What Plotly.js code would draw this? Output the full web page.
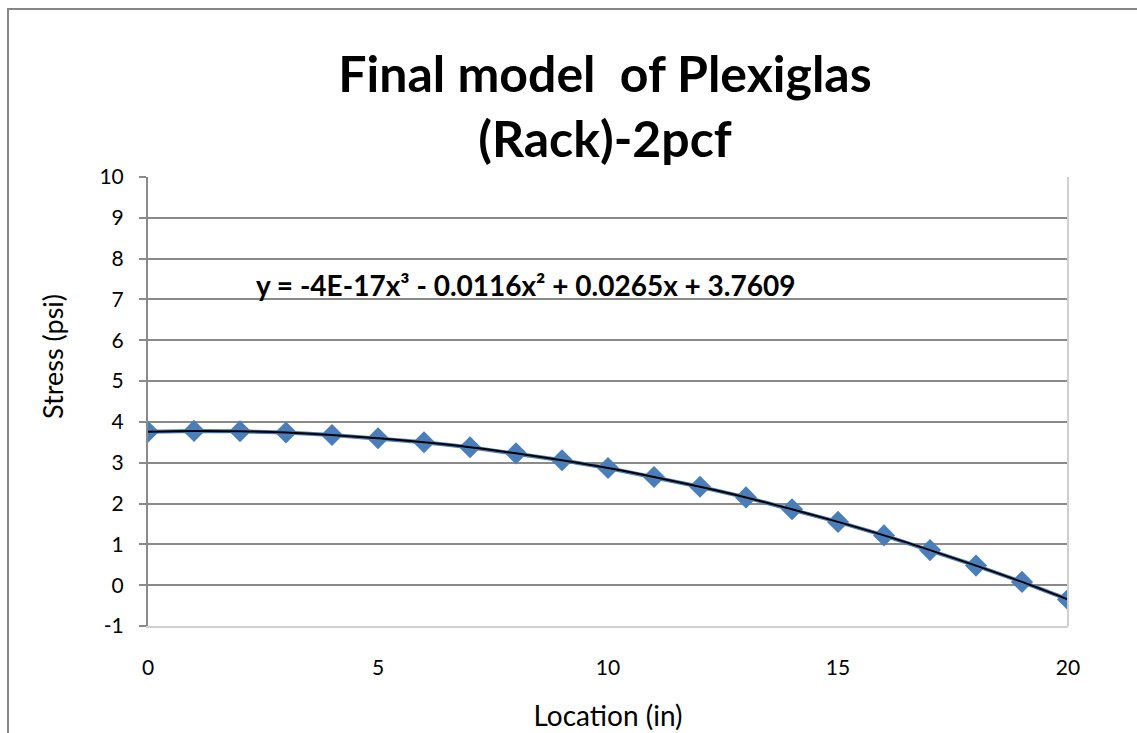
<!DOCTYPE html>
<html>
<head>
<meta charset="utf-8">
<script src="https://cdn.plot.ly/plotly-3.0.1.min.js"></script>
<style>
html,body{margin:0;padding:0;background:#fff;}
#chart{width:1137px;height:733px;}
</style>
</head>
<body>
<div id="chart"></div>
<script>
const locations = [0,1,2,3,4,5,6,7,8,9,10,11,12,13,14,15,16,17,18,19,20];
const stress = [3.76,3.78,3.77,3.74,3.68,3.60,3.50,3.38,3.23,3.06,2.87,2.65,2.41,2.15,1.86,1.55,1.22,0.86,0.48,0.08,-0.35];
const titleText = "Final model  of Plexiglas<br>(Rack)-2pcf";
const xTitle = "Location (in)";
const yTitle = "Stress (psi)";
const equationText = "y = -4E-17x³ - 0.0116x² + 0.0265x + 3.7609";
const yTickVals = [-1,0,1,2,3,4,5,6,7,8,9,10];
const yTickText = ["-1","0","1","2","3","4","5","6","7","8","9","10"];

const font = "Lato, 'Open Sans', sans-serif";
const W = 1137, H = 733;
const L = 148, R = 1068, T = 177, B = 626;
const pw = R - L, ph = B - T;
const px = v => (v - L) / pw;
const py = v => (B - v) / ph;

const traces = [
  {
    x: locations, y: stress, type: 'scatter', mode: 'lines+markers',
    line: {color: '#4a7ebb', width: 4},
    marker: {symbol: 'diamond', size: 17, color: '#4a7ebb'},
    showlegend: false, hoverinfo: 'x+y'
  },
  {
    x: locations, y: stress, type: 'scatter', mode: 'lines',
    line: {color: '#000000', width: 2, shape: 'spline', smoothing: 1},
    showlegend: false, hoverinfo: 'skip'
  }
];

const layout = {
  width: W, height: H,
  margin: {l: L, r: W - R, t: T, b: H - B, pad: 0},
  paper_bgcolor: '#ffffff', plot_bgcolor: '#ffffff',
  font: {family: font, color: '#000'},
  title: {
    text: titleText,
    font: {family: font, size: 50, color: '#000', weight: 'bold'},
    x: px(605), xref: 'paper', xanchor: 'center',
    y: 1 - 92 / H, yref: 'container', yanchor: 'middle'
  },
  xaxis: {
    range: [0, 20], dtick: 5, tick0: 0,
    showgrid: false, zeroline: false,
    showline: true, linecolor: '#d0d0d0', linewidth: 2, mirror: false,
    ticks: '', ticklabelstandoff: 22,
    tickfont: {family: font, size: 21, color: '#000'},
    title: {text: xTitle, font: {family: font, size: 28, color: '#000'}, standoff: 28},
    fixedrange: true
  },
  yaxis: {
    range: [-1, 10], tickmode: 'array', tickvals: yTickVals, ticktext: yTickText,
    showgrid: true, gridcolor: '#8a8a8a', gridwidth: 2,
    zeroline: false,
    showline: true, linecolor: '#8a8a8a', linewidth: 2,
    ticks: 'outside', ticklen: 7, tickcolor: '#8a8a8a', tickwidth: 2,
    ticklabelstandoff: 11,
    tickfont: {family: font, size: 21, color: '#000'},
    fixedrange: true
  },
  shapes: [
    {type: 'rect', xref: 'paper', yref: 'paper',
     x0: px(8), x1: px(1145), y0: py(745), y1: py(9),
     line: {color: '#868686', width: 2}, fillcolor: 'rgba(0,0,0,0)', layer: 'below'},
    {type: 'line', xref: 'paper', yref: 'paper',
     x0: 1, x1: 1, y0: 0, y1: 1,
     line: {color: '#d0d0d0', width: 2}}
  ],
  annotations: [
    {text: '<b>' + equationText + '</b>', x: 8.2, y: 7.35, xref: 'x', yref: 'y',
     showarrow: false, xanchor: 'center', yanchor: 'middle',
     font: {family: font, size: 28, color: '#000'}},
    {text: yTitle, xref: 'paper', yref: 'paper', x: px(52), y: py(357),
     xanchor: 'center', yanchor: 'middle', textangle: -90, showarrow: false,
     font: {family: font, size: 27, color: '#000'}}
  ]
};

Plotly.newPlot('chart', traces, layout, {displayModeBar: false, staticPlot: true});
</script>
</body>
</html>
